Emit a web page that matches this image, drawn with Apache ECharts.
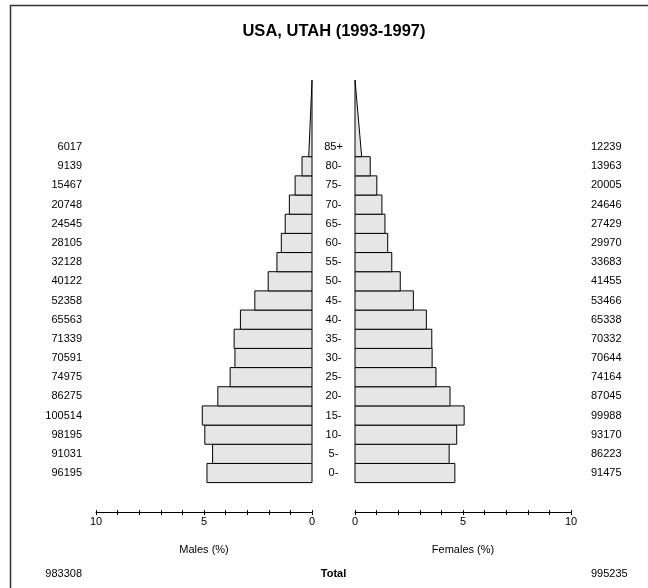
<!DOCTYPE html>
<html>
<head>
<meta charset="utf-8">
<style>
  html, body { margin: 0; padding: 0; background: #fff; }
  #chart { width: 648px; height: 588px; }
</style>
<script src="https://cdn.jsdelivr.net/npm/echarts@6/dist/echarts.min.js"></script>
</head>
<body>
<div id="chart"></div>
<script>
// Five-year age groups, youngest first
const ageLabels = ['0-', '5-', '10-', '15-', '20-', '25-', '30-', '35-', '40-', '45-',
                   '50-', '55-', '60-', '65-', '70-', '75-', '80-', '85+'];
const ageStarts = [0, 5, 10, 15, 20, 25, 30, 35, 40, 45, 50, 55, 60, 65, 70, 75, 80, 85];

// Population counts by age group
const males   = [96195, 91031, 98195, 100514, 86275, 74975, 70591, 71339, 65563,
                 52358, 40122, 32128, 28105, 24545, 20748, 15467, 9139, 6017];
const females = [91475, 86223, 93170, 99988, 87045, 74164, 70644, 70332, 65338,
                 53466, 41455, 33683, 29970, 27429, 24646, 20005, 13963, 12239];

const totalMales = 983308;
const totalFemales = 995235;

// Axis ticks (percent of total population)
const axisLabelled = [0, 5, 10];

const GROUP_WIDTH = 5;   // years per closed age group
const OPEN_SPAN = 20;    // vertical extent of the open-ended 85+ triangle
const FONT = '"Liberation Sans", Arial, Helvetica, sans-serif';

const grandTotal = totalMales + totalFemales;
const pct = v => v / grandTotal * 100;

function sideData(counts) {
  return counts.map((c, i) => [ageStarts[i], pct(c), c, i === counts.length - 1 ? 1 : 0]);
}

function makeRender(isMale) {
  return function (params, api) {
    const age = api.value(0);
    const p = api.value(1);
    const count = api.value(2);
    const open = api.value(3) === 1;
    const cs = params.coordSys;
    const children = [];
    const barStyle = { fill: '#e6e6e6', stroke: '#000', lineWidth: 1 };

    if (open) {
      // open-ended group: triangle with the same area as a full bar
      const a = api.coord([0, age]);
      const b = api.coord([p * GROUP_WIDTH * 2 / OPEN_SPAN, age]);
      const c = api.coord([0, age + OPEN_SPAN]);
      children.push({
        type: 'polygon',
        shape: { points: [a, b, c] },
        style: barStyle
      });
    } else {
      const a = api.coord([0, age]);
      const b = api.coord([p, age + GROUP_WIDTH]);
      children.push({
        type: 'rect',
        shape: {
          x: Math.min(a[0], b[0]), y: b[1],
          width: Math.abs(b[0] - a[0]), height: a[1] - b[1]
        },
        style: barStyle
      });
    }

    const mid = api.coord([0, age + GROUP_WIDTH / 2])[1];
    if (isMale) {
      children.push({
        type: 'text',
        style: {
          x: cs.x - 14, y: mid, text: String(count),
          align: 'right', verticalAlign: 'middle',
          fontSize: 11, fontFamily: FONT, fill: '#000'
        }
      });
      children.push({
        type: 'text',
        style: {
          x: cs.x + cs.width + 21.5, y: mid, text: ageLabels[params.dataIndex],
          align: 'center', verticalAlign: 'middle',
          fontSize: 11, fontFamily: FONT, fill: '#000'
        }
      });
    } else {
      children.push({
        type: 'text',
        style: {
          x: cs.x + cs.width + 20, y: mid, text: String(count),
          align: 'left', verticalAlign: 'middle',
          fontSize: 11, fontFamily: FONT, fill: '#000'
        }
      });
    }
    return { type: 'group', children: children };
  };
}

function xAxisPair(gridIndex, inverse, name) {
  const base = {
    type: 'value', gridIndex: gridIndex, min: 0, max: 10, interval: 1,
    inverse: inverse, position: 'bottom', offset: 30, splitLine: { show: false }
  };
  return [
    Object.assign({}, base, {
      name: name, nameLocation: 'middle', nameGap: 32,
      nameTextStyle: { fontSize: 11, fontFamily: FONT, color: '#000' },
      axisLine: { show: true, onZero: false, lineStyle: { color: '#000', width: 1 } },
      axisTick: { show: true, inside: false, length: 2.5, lineStyle: { color: '#000' } },
      axisLabel: {
        fontSize: 11, fontFamily: FONT, color: '#000', margin: 4,
        formatter: v => axisLabelled.indexOf(v) >= 0 ? String(v) : ''
      }
    }),
    Object.assign({}, base, {
      axisLine: { show: false, onZero: false },
      axisTick: { show: true, inside: true, length: 2.5, lineStyle: { color: '#000' } },
      axisLabel: { show: false }
    })
  ];
}

const maleAxes = xAxisPair(0, true, 'Males (%)');
const femaleAxes = xAxisPair(1, false, 'Females (%)');

const chart = echarts.init(document.getElementById('chart'), null, { renderer: 'canvas' });
chart.setOption({
  backgroundColor: '#fff',
  animation: false,
  title: {
    text: 'USA, UTAH (1993-1997)',
    left: 329, top: 18, textAlign: 'center',
    textStyle: { fontSize: 16.5, fontWeight: 'bold', fontFamily: FONT, color: '#000' }
  },
  grid: [
    { left: 96, top: 80, width: 216, height: 402.6 },
    { left: 355, top: 80, width: 216, height: 402.6 }
  ],
  xAxis: [maleAxes[0], femaleAxes[0], maleAxes[1], femaleAxes[1]],
  yAxis: [
    { type: 'value', gridIndex: 0, min: 0, max: 105, show: false },
    { type: 'value', gridIndex: 1, min: 0, max: 105, show: false }
  ],
  series: [
    {
      type: 'custom', xAxisIndex: 0, yAxisIndex: 0,
      renderItem: makeRender(true), data: sideData(males), clip: false
    },
    {
      type: 'custom', xAxisIndex: 1, yAxisIndex: 1,
      renderItem: makeRender(false), data: sideData(females), clip: false
    }
  ],
  graphic: [
    {
      type: 'rect', silent: true, z: -1,
      shape: { x: 10.5, y: 5.5, width: 800, height: 800 },
      style: { fill: null, stroke: '#333', lineWidth: 1.5 }
    },
    {
      type: 'text', silent: true,
      style: { x: 82, y: 574, text: String(totalMales), align: 'right', verticalAlign: 'middle',
               fontSize: 11, fontFamily: FONT, fill: '#000' }
    },
    {
      type: 'text', silent: true,
      style: { x: 333.5, y: 574, text: 'Total', align: 'center', verticalAlign: 'middle',
               fontSize: 11, fontWeight: 'bold', fontFamily: FONT, fill: '#000' }
    },
    {
      type: 'text', silent: true,
      style: { x: 591, y: 574, text: String(totalFemales), align: 'left', verticalAlign: 'middle',
               fontSize: 11, fontFamily: FONT, fill: '#000' }
    }
  ]
});
</script>
</body>
</html>
